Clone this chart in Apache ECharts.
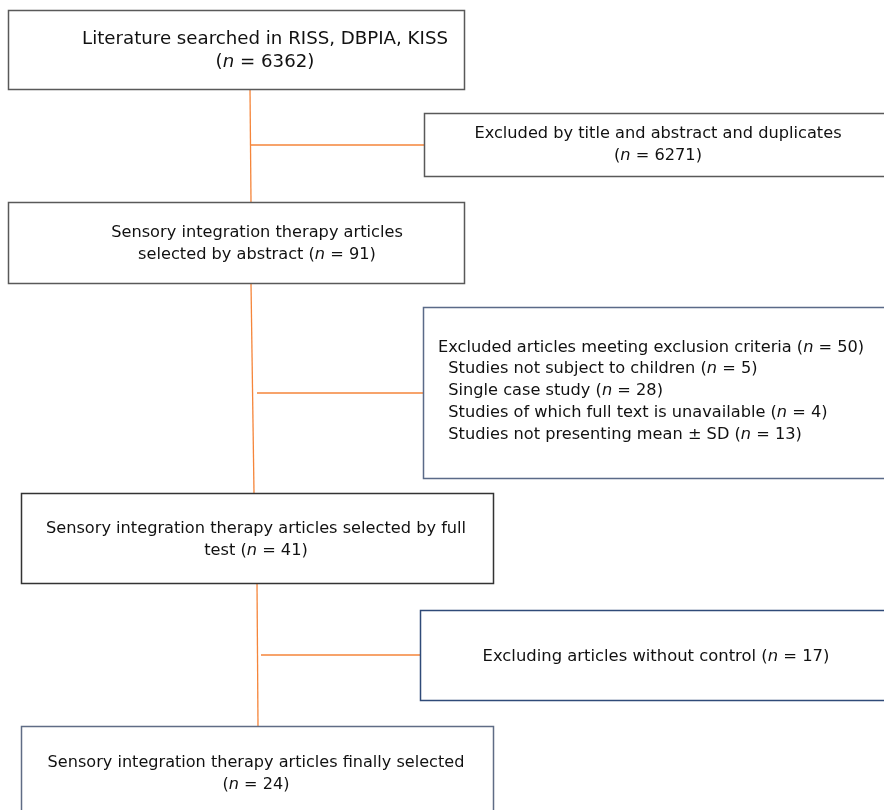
<!DOCTYPE html>
<html>
<head>
<meta charset="utf-8">
<script src="https://cdn.jsdelivr.net/npm/echarts@6/dist/echarts.min.js"></script>
<style>
  html, body { margin: 0; padding: 0; background: #fff; }
  #chart { width: 884px; height: 810px; }
</style>
</head>
<body>
<div id="chart"></div>
<script>
// flow steps (main column) and their counts
const mainSteps = [
  'Literature searched in RISS, DBPIA, KISS\n',
  'Sensory integration therapy articles\nselected by abstract ',
  'Sensory integration therapy articles selected by full\ntest ',
  'Sensory integration therapy articles finally selected\n'
]
const mainCounts = [6362, 91, 41, 24]

// excluded at each step
const excludedSteps = [
  'Excluded by title and abstract and duplicates\n',
  'Excluded articles meeting exclusion criteria ',
  'Excluding articles without control '
]
const excludedCounts = [6271, 50, 17]

// reasons of the second exclusion
const exclusionReasons = [
  'Studies not subject to children',
  'Single case study',
  'Studies of which full text is unavailable',
  'Studies not presenting mean \u00b1 SD'
]
const reasonCounts = [5, 28, 4, 13]

// layout (pixel space of the hidden axes): [x0, y0, x1, y1]
const mainBoxes = [[8, 10, 464, 89], [8, 202, 464, 283], [21, 493, 493, 583], [21, 726, 493, 830]]
const mainTextPos = [[265, 51], [257, 244], [256, 540], [256, 774]]
const mainFont = [18.2, 16.2, 16.2, 16.1]
const mainBorder = ['#595959', '#595959', '#333333', '#5f6c85']
const exclBoxes = [[424, 113, 900, 176], [423, 307, 900, 478], [420, 610, 900, 700]]
const exclTextPos = [[658, 145], [438, 391], [656, 657]]
const exclFont = [16.2, 16.2, 16.4]
const exclBorder = ['#595959', '#5a6a88', '#2f4a78']
// connectors: main trunk pieces [x0,y0,x1,y1] and branches
const trunks = [[250, 89, 251, 202], [251, 283, 254, 493], [257, 583, 258, 726]]
const branches = [[251, 145, 424, 145], [257, 393, 423, 393], [261, 655, 420, 655]]

const nTxt = (c) => '({i|n} = ' + c + ')'

const mainLabels = mainSteps.map((s, i) => s + nTxt(mainCounts[i]))
const exclLabels = excludedSteps.map((s, i) => {
  let t = s + nTxt(excludedCounts[i])
  if (i === 1) {
    t += '\n' + exclusionReasons.map((r, k) => '  ' + r + ' ' + nTxt(reasonCounts[k])).join('\n')
  }
  return t
})

const boxData = []
mainBoxes.forEach((b, i) => boxData.push(b.concat(mainTextPos[i], [i, 0])))
exclBoxes.forEach((b, i) => boxData.push(b.concat(exclTextPos[i], [i, 1])))

const lineData = trunks.concat(branches)

const FONT = 'DejaVu Sans'

var chartDom = document.getElementById('chart')
var myChart = echarts.init(chartDom)
var option = {
  animation: false,
  grid: { left: 0, right: 0, top: 0, bottom: 0 },
  xAxis: { type: 'value', min: 0, max: 884, show: false },
  yAxis: { type: 'value', min: 0, max: 810, inverse: true, show: false },
  series: [
    {
      type: 'custom',
      data: lineData,
      renderItem: function (params, api) {
        const p0 = api.coord([api.value(0), api.value(1)])
        const p1 = api.coord([api.value(2), api.value(3)])
        return {
          type: 'line',
          shape: { x1: p0[0], y1: p0[1], x2: p1[0], y2: p1[1] },
          style: { stroke: '#f5853a', lineWidth: 1.3 }
        }
      }
    },
    {
      type: 'custom',
      data: boxData,
      renderItem: function (params, api) {
        const p0 = api.coord([api.value(0), api.value(1)])
        const p1 = api.coord([api.value(2), api.value(3)])
        const tp = api.coord([api.value(4), api.value(5)])
        const idx = api.value(6)
        const isExcl = api.value(7) === 1
        const label = isExcl ? exclLabels[idx] : mainLabels[idx]
        const border = isExcl ? exclBorder[idx] : mainBorder[idx]
        const fs = isExcl ? exclFont[idx] : mainFont[idx]
        const leftAlign = isExcl && idx === 1
        return {
          type: 'group',
          children: [
            {
              type: 'rect',
              shape: { x: p0[0] + 0.5, y: p0[1] + 0.5, width: p1[0] - p0[0], height: p1[1] - p0[1] },
              style: { fill: '#fff', stroke: border, lineWidth: 1.5 }
            },
            {
              type: 'text',
              x: tp[0],
              y: tp[1],
              style: {
                text: label,
                fontFamily: FONT,
                fontSize: fs,
                lineHeight: idx === 1 && isExcl ? 21.8 : 22.5,
                fill: '#111',
                align: leftAlign ? 'left' : 'center',
                verticalAlign: 'middle',
                rich: {
                  i: { fontStyle: 'italic', fontSize: fs, fontFamily: FONT, fill: '#111' }
                }
              }
            }
          ]
        }
      }
    }
  ]
}
option && myChart.setOption(option)
</script>
</body>
</html>
